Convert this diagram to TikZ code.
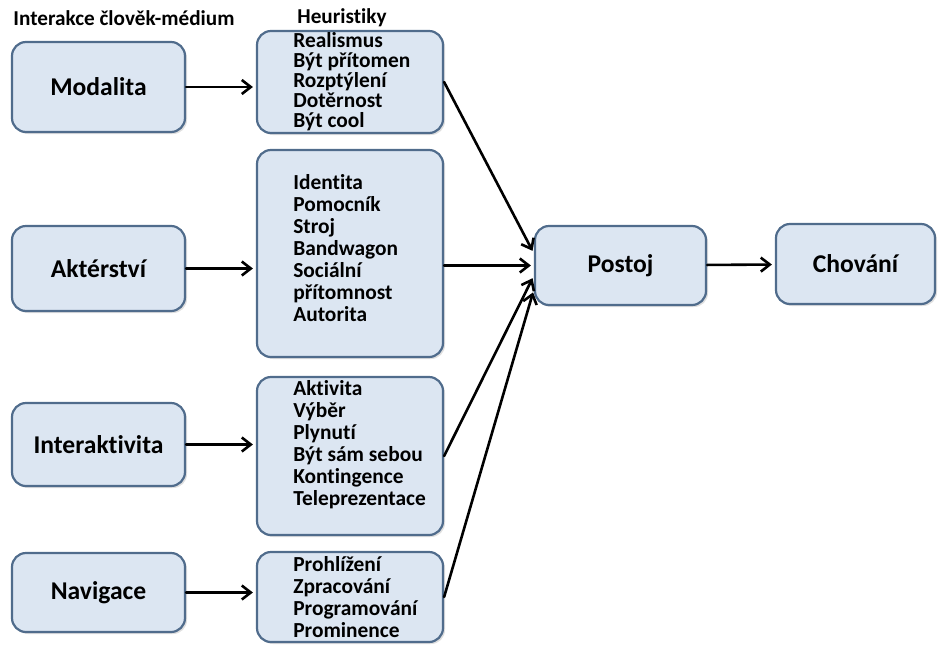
\documentclass[tikz,border=0pt]{standalone}
\usepackage{fontspec}
\setmainfont{Carlito}[Ligatures=NoCommon]
\usetikzlibrary{arrows.meta,shadows}
\usepackage{xcolor}

\definecolor{boxfill}{RGB}{220,230,242}
\definecolor{boxdraw}{RGB}{80,108,140}

\begin{document}
\begin{tikzpicture}[
    x=0.5pt,
    y=-0.5pt,
    >={Straight Barb[length=4.5pt,width=7pt]},
    line cap=round,
    line join=round,
    box/.style={draw=boxdraw, fill=boxfill, line width=1.1pt, rounded corners=7pt, inner sep=0pt,
      drop shadow={opacity=0.25, shadow xshift=1pt, shadow yshift=-1pt},
      font=\fontsize{12.8}{14}\selectfont\bfseries},
    list/.style={anchor=west, inner sep=0pt, align=left, font=\fontsize{10.7}{11}\selectfont\bfseries},
    title/.style={inner sep=0pt, font=\fontsize{10.6}{12}\selectfont\bfseries},
    link/.style={draw=black, line width=1.3pt, shorten >=1.5pt, ->},
  ]

  \def\colA{98.5}
  \def\colB{350}

  % Column titles
  \node[title] (hdr) at (124,18) {Interakce člověk-médium};
  \node[title] (heur) at (342,18) {Heuristiky};

  % Media features
  \node[box, minimum width=86.5pt, minimum height=45pt] (modalita) at (\colA,87) {Modalita};
  \node[box, minimum width=86.5pt, minimum height=42.5pt] (akter) at (\colA,268.5) {Aktérství};
  \node[box, minimum width=86.5pt, minimum height=41.5pt] (inter) at (\colA,444.5) {Interaktivita};
  \node[box, minimum width=86.5pt, minimum height=39.5pt] (navig) at (\colA,592.5) {Navigace};

  % Heuristic boxes
  \node[box, minimum width=93pt, minimum height=51pt] (h1) at (\colB,82) {};
  \node[box, minimum width=93pt, minimum height=103.5pt] (h2) at (\colB,253.5) {};
  \node[box, minimum width=93pt, minimum height=79pt] (h3) at (\colB,456) {};
  \node[box, minimum width=93pt, minimum height=45pt] (h4) at (\colB,597) {};

  % Heuristic lists
  \node[list, font=\fontsize{10.7}{10}\selectfont\bfseries] (l1) at ([xshift=18.5pt]h1.west)
    {Realismus\\Být přítomen\\Rozptýlení\\Dotěrnost\\Být cool};
  \node[list] (l2) at ([xshift=18.5pt, yshift=2.75pt]h2.west)
    {Identita\\Pomocník\\Stroj\\Bandwagon\\Sociální\\přítomnost\\Autorita};
  \node[list] (l3) at ([xshift=18.5pt, yshift=5.75pt]h3.west)
    {Aktivita\\Výběr\\Plynutí\\Být sám sebou\\Kontingence\\Teleprezentace};
  \node[list] (l4) at ([xshift=18.5pt]h4.west)
    {Prohlížení\\Zpracování\\Programování\\Prominence};

  % Outcome boxes
  \node[box, minimum width=85.5pt, minimum height=39.5pt] (postoj) at (620.5,265.5) {Postoj};
  \node[box, minimum width=79.5pt, minimum height=40pt] (chovani) at (855.5,264) {Chování};

  % Features to heuristics
  \draw[link] (modalita.east) -- (modalita.east -| h1.west);
  \draw[link] (akter.east) -- (akter.east -| h2.west);
  \draw[link] (inter.east) -- (inter.east -| h3.west);
  \draw[link] (navig.east) -- (navig.east -| h4.west);

  % Heuristics to attitude
  \draw[link] (h1.east) -- ([yshift=6pt]postoj.west);
  \draw[link] (h2.east |- postoj.west) -- (postoj.west);
  \draw[link] (h3.east) -- ([yshift=-5pt]postoj.west);
  \draw[link] (h4.east) -- ([yshift=-12pt]postoj.west);

  % Attitude to behaviour
  \draw[link] (postoj) -- (chovani);

  \path[use as bounding box] (0,0) rectangle (940,653);
\end{tikzpicture}
\end{document}
